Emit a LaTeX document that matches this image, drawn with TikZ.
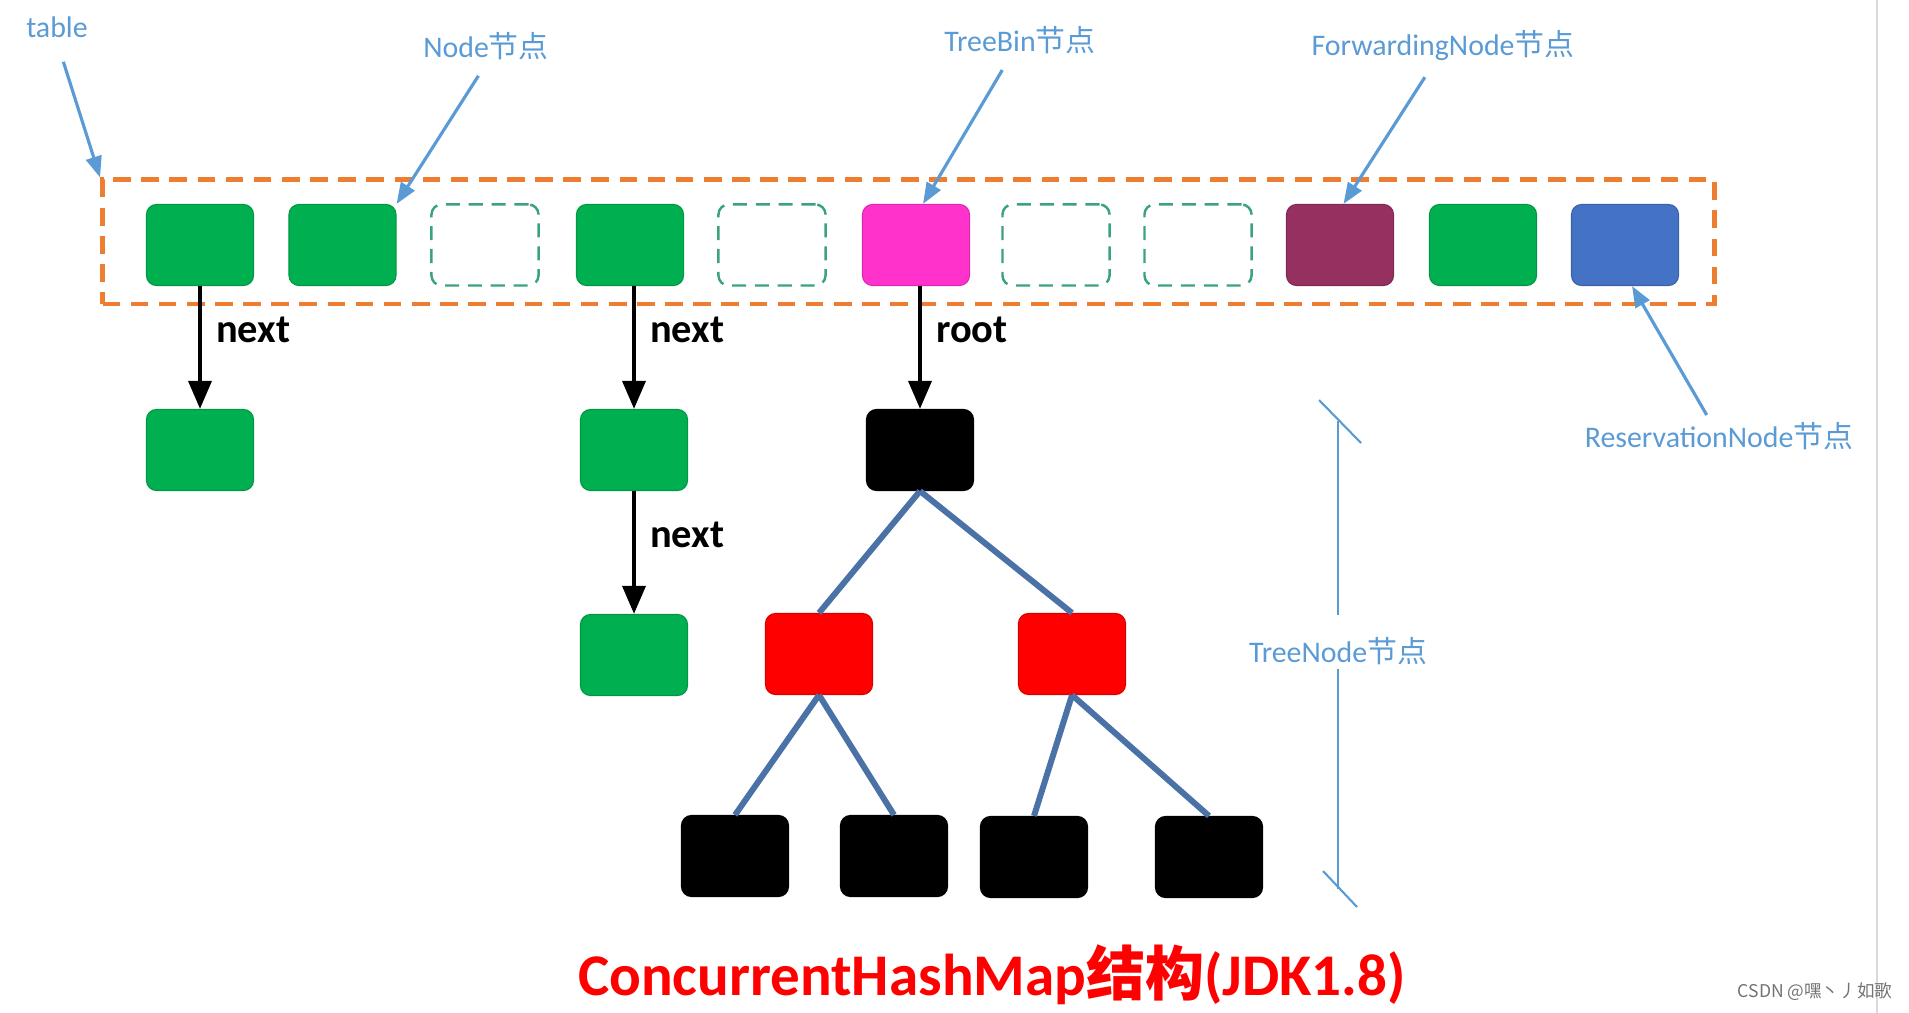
\documentclass[tikz,border=0pt]{standalone}
\usepackage{fontspec}
\setmainfont{Carlito}
\newfontfamily\cjk{Noto Sans CJK SC}
\usepackage{tikz}
\usetikzlibrary{arrows.meta}
\definecolor{cellGreen}{HTML}{00B050}
\definecolor{binPink}{HTML}{FF33CC}
\definecolor{fwdMaroon}{HTML}{953060}
\definecolor{resBlue}{HTML}{4472C4}
\definecolor{tblOrange}{HTML}{ED7D31}
\definecolor{noteBlue}{HTML}{5B9BD5}
\definecolor{treeLine}{HTML}{4A72A6}
\definecolor{emptyTeal}{HTML}{3AA37A}

\begin{document}
\begin{tikzpicture}[x=0.01cm, y=-0.01cm,
  cell/.style={rounded corners=0.1cm, minimum width=1.07cm, minimum height=0.81cm, inner sep=0pt},
  solidcell/.style={cell, fill=#1, draw=#1!85!black, line width=0.3pt},
  emptycell/.style={cell, draw=emptyTeal, line width=0.7pt, dash pattern=on 4pt off 2.5pt},
  note/.style={text=noteBlue, font=\fontsize{8.5}{10}\selectfont, inner sep=1pt},
  callout/.style={draw=noteBlue, line width=0.9pt, -{Triangle[length=6pt,width=4.5pt]}, shorten <=4pt},
  link/.style={line width=1.2pt, -{Triangle[length=8pt,width=6.5pt]}},
  lbl/.style={font=\bfseries\fontsize{11.5}{13}\selectfont, inner sep=1pt, right=3pt},
  branch/.style={draw=treeLine, line width=1.7pt},
  dimline/.style={draw=noteBlue, line width=0.6pt},
]
  \useasboundingbox (0,0) rectangle (1909,1013);
  % page edge on the right
  \draw[black!15, line width=0.5pt] (1877,0) -- (1877,1013);

  % table
  \node[draw=tblOrange, line width=1.4pt, dash pattern=on 5pt off 3pt,
        minimum width=16.11cm, minimum height=1.24cm, inner sep=0pt] (table) at (908.5,242) {};
  \node[solidcell=cellGreen] (t1) at (200,245) {};
  \node[solidcell=cellGreen] (t2) at (342.5,245) {};
  \node[emptycell] (t3) at (485,245) {};
  \node[solidcell=cellGreen] (t4) at (630,245) {};
  \node[emptycell] (t5) at (772,245) {};
  \node[solidcell=binPink] (t6) at (916,245) {};
  \node[emptycell] (t7) at (1056,245) {};
  \node[emptycell] (t8) at (1198,245) {};
  \node[solidcell=fwdMaroon] (t9) at (1340,245) {};
  \node[solidcell=cellGreen] (t10) at (1483,245) {};
  \node[solidcell=resBlue] (t11) at (1625,245) {};

  % linked lists
  \node[solidcell=cellGreen] (n1) at (200,450) {};
  \node[solidcell=cellGreen] (n4a) at (634,450) {};
  \node[solidcell=cellGreen] (n4b) at (634,655) {};
  \draw[link] (t1) -- (n1) node[lbl, pos=.36] {next};
  \draw[link] (t4.south -| n4a) -- (n4a) node[lbl, pos=.36] {next};
  \draw[link] (n4a) -- (n4b) node[lbl, pos=.36] {next};

  % red-black tree
  \node[solidcell=black] (root) at (920,450) {};
  \node[solidcell=red] (rl) at (819,654) {};
  \node[solidcell=red] (rr) at (1072,654) {};
  \node[solidcell=black] (b1) at (735,856) {};
  \node[solidcell=black] (b2) at (894,856) {};
  \node[solidcell=black] (b3) at (1034,857) {};
  \node[solidcell=black] (b4) at (1209,857) {};
  \draw[link] (t6.south -| root) -- (root) node[lbl, pos=.36] {root};
  \draw[branch] (root.south) -- (rl.north);
  \draw[branch] (root.south) -- (rr.north);
  \draw[branch] (rl.south) -- (b1.north);
  \draw[branch] (rl.south) -- (b2.north);
  \draw[branch] (rr.south) -- (b3.north);
  \draw[branch] (rr.south) -- (b4.north);

  % notes
  \node[note] (lblTable) at (57,27) {table};
  \node[note] (lblNode) at (486,46) {Node{\cjk 节点}};
  \node[note] (lblBin) at (1020,40) {TreeBin{\cjk 节点}};
  \node[note] (lblFwd) at (1443,46) {ForwardingNode{\cjk 节点}};
  \node[note] (lblRes) at (1719,436) {ReservationNode{\cjk 节点}};
  \draw[callout, shorten <=6pt] (lblTable.south) -- (table.north west);
  \draw[callout] (lblNode.south) -- (t2.north east);
  \draw[callout] ([xshift=-3pt]lblBin.south) -- ([xshift=2pt]t6.north);
  \draw[callout] ([xshift=-3pt]lblFwd.south) -- ([xshift=1pt]t9.north);
  \draw[callout, shorten <=1pt] ([xshift=-3pt]lblRes.north) -- ([xshift=2pt]t11.south);

  % TreeNode span
  \node[note] (lblTree) at (1338,651) {TreeNode{\cjk 节点}};
  \coordinate (dimTop) at (1338,421);
  \coordinate (dimBot) at (1338,889);
  \draw[dimline, shorten <=5pt] (lblTree) -- (dimTop);
  \draw[dimline] (lblTree) -- (dimBot);
  \draw[dimline] ([shift={(-19,-21)}]dimTop) -- ([shift={(23,22)}]dimTop);
  \draw[dimline] ([shift={(-15,-18)}]dimBot) -- ([shift={(19,18)}]dimBot);

  % title
  \node[anchor=base, text=red, font=\bfseries\fontsize{16.8}{19}\selectfont, inner sep=0pt] (title) at (992,995)
    {ConcurrentHashMap{\cjk\bfseries 结构}(JDK1.8)};
  \node[anchor=base east, text=black!55, font=\cjk\fontsize{5}{6}\selectfont, inner sep=0pt] (mark) at (1893,997)
    {CSDN @嘿丶丿如歌};
\end{tikzpicture}
\end{document}
